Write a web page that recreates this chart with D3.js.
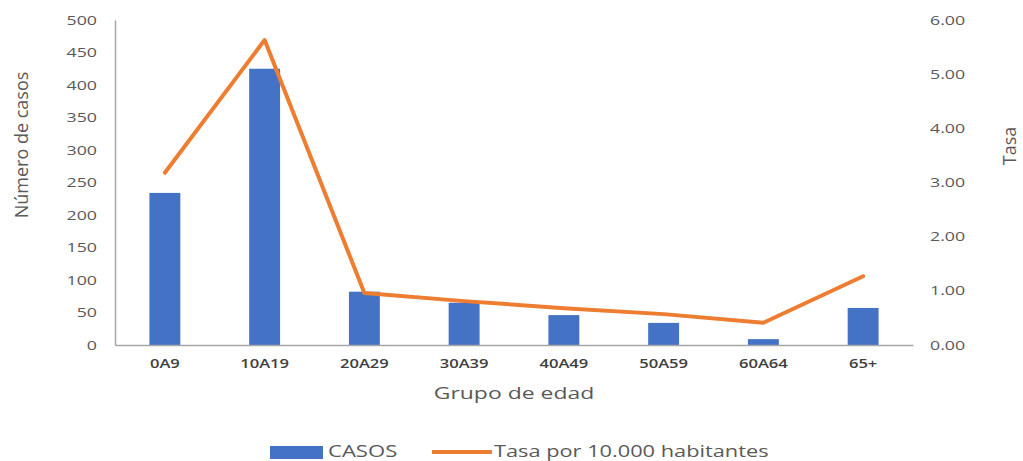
<!DOCTYPE html>
<html><head><meta charset="utf-8">
<script src="https://cdn.jsdelivr.net/npm/d3@7"></script>
<style>body{margin:0;background:#fff}svg{display:block}</style>
</head><body><svg id="c" width="1023" height="461"></svg>
<script>
const categories = ["0A9","10A19","20A29","30A39","40A49","50A59","60A64","65+"];
const casos = [234, 425, 82, 65, 46, 34, 9, 57];
const tasa = [3.18, 5.63, 0.96, 0.81, 0.68, 0.57, 0.41, 1.27];
const leftTicks = [0,50,100,150,200,250,300,350,400,450,500];
const rightTicks = [0,1,2,3,4,5,6];

const svg = d3.select("#c");
const font = "'Open Sans', 'Liberation Sans', sans-serif";
function stretch(sel, f){
  sel.each(function(){
    const w = this.getComputedTextLength();
    d3.select(this).attr("textLength", w*f).attr("lengthAdjust","spacingAndGlyphs");
  });
}
const x = d3.scaleBand().domain(categories).range([115, 913]).paddingInner(0.69).paddingOuter(0.345);
const y = d3.scaleLinear().domain([0, 500]).range([345, 20]);
const y2 = d3.scaleLinear().domain([0, 6]).range([345, 20]);

// bars
svg.selectAll("rect.bar").data(casos).join("rect").attr("class","bar")
  .attr("x",(d,i)=>x(categories[i])).attr("width",x.bandwidth())
  .attr("y",d=>y(d)).attr("height",d=>y(0)-y(d)).attr("fill","#4472C4");

// left axis
const ga = svg.append("g").attr("transform","translate(115,0)")
  .call(d3.axisLeft(y).tickValues(leftTicks).tickSize(0).tickPadding(18));
ga.select(".domain").attr("stroke","#A6A6A6").attr("stroke-width",1.5);
ga.selectAll("text").attr("font-family",font).attr("font-size",12.5).attr("fill","#595959");
stretch(ga.selectAll("text"), 1.42);

// bottom axis
const gb = svg.append("g").attr("transform","translate(0,345)")
  .call(d3.axisBottom(x).tickSize(0).tickPadding(14));
gb.select(".domain").attr("stroke","#A6A6A6").attr("stroke-width",1.5);
gb.selectAll("text").attr("font-family",font).attr("font-size",12).attr("font-weight",600).attr("fill","#404040");
stretch(gb.selectAll("text"), 1.38);

// right axis
const gr = svg.append("g").attr("transform","translate(913,0)")
  .call(d3.axisRight(y2).tickValues(rightTicks).tickSize(0).tickPadding(17).tickFormat(d3.format(".2f")));
gr.select(".domain").remove();
gr.selectAll("text").attr("font-family",font).attr("font-size",12.5).attr("fill","#595959");
stretch(gr.selectAll("text"), 1.42);

// line
const line = d3.line().x((d,i)=>x(categories[i])+x.bandwidth()/2).y(d=>y2(d));
svg.append("path").datum(tasa).attr("d",line).attr("fill","none")
  .attr("stroke","#ED7D31").attr("stroke-width",4).attr("stroke-linejoin","round").attr("stroke-linecap","round");

// axis titles
svg.append("text").attr("transform","translate(28,145) rotate(-90)").attr("text-anchor","middle")
  .attr("font-family",font).attr("font-size",18).attr("fill","#595959").text("Número de casos");
svg.append("text").attr("transform","translate(1016,146) rotate(-90)").attr("text-anchor","middle")
  .attr("font-family",font).attr("font-size",18).attr("fill","#595959").text("Tasa");
const gt = svg.append("text").attr("x",514).attr("y",399).attr("text-anchor","middle")
  .attr("font-family",font).attr("font-size",17).attr("fill","#595959").text("Grupo de edad");
stretch(gt, 1.35);

// legend
const lg = svg.append("g");
lg.append("rect").attr("x",270).attr("y",446).attr("width",53).attr("height",13).attr("fill","#4472C4");
const l1 = lg.append("text").attr("x",328).attr("y",457).attr("font-family",font).attr("font-size",16).attr("fill","#595959").text("CASOS");
lg.append("line").attr("x1",432).attr("x2",492).attr("y1",452).attr("y2",452).attr("stroke","#ED7D31").attr("stroke-width",4);
const l2 = lg.append("text").attr("x",494).attr("y",457).attr("font-family",font).attr("font-size",16).attr("fill","#595959").text("Tasa por 10.000 habitantes");
stretch(l1, 1.38);
stretch(l2, 1.36);
</script></body></html>
